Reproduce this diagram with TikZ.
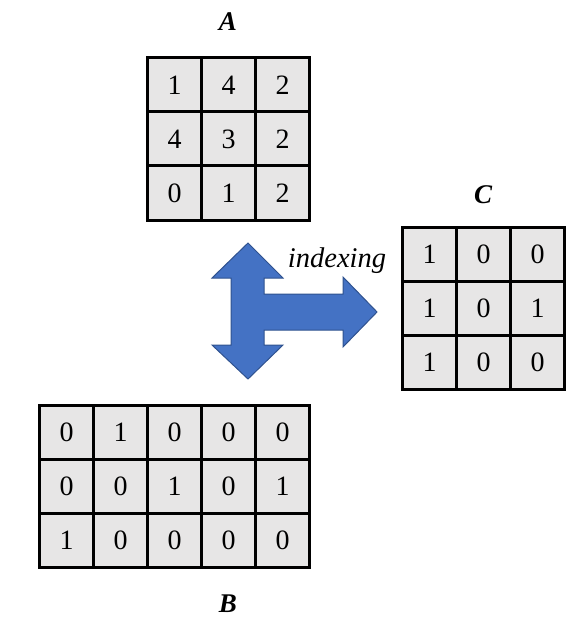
\documentclass[tikz,border=0pt]{standalone}
\usepackage{fontspec}
\setmainfont{Liberation Serif}
\definecolor{cellgray}{HTML}{E7E6E6}
\definecolor{arrowblue}{HTML}{4472C4}
\definecolor{arrowedge}{HTML}{2F528F}
\tikzset{
  cell/.style={draw=black, line width=3pt, fill=cellgray, minimum width=54pt, minimum height=54pt, inner sep=0pt, font=\fontsize{28}{30}\selectfont},
  mlabel/.style={font=\fontsize{27}{29}\selectfont\bfseries\itshape},
  bigarrow/.style={fill=arrowblue, draw=arrowedge, line width=1pt, line join=miter},
}
\begin{document}
\begin{tikzpicture}[x=1pt,y=-1pt]
\useasboundingbox (0,0) rectangle (587,631);
% Matrix A
\foreach \r/\row in {0/{1,4,2},1/{4,3,2},2/{0,1,2}}{
  \foreach \v [count=\c from 0] in \row {
    \node[cell] (A-\r-\c) at (174.5+54*\c, 85+54*\r) {\v};
  }
}
\node[mlabel] (labA) at (228,22) {A};
% Matrix C
\foreach \r/\row in {0/{1,0,0},1/{1,0,1},2/{1,0,0}}{
  \foreach \v [count=\c from 0] in \row {
    \node[cell] (C-\r-\c) at (429.5+54*\c, 254+54*\r) {\v};
  }
}
\node[mlabel] (labC) at (483,195) {C};
% Matrix B
\foreach \r/\row in {0/{0,1,0,0,0},1/{0,0,1,0,1},2/{1,0,0,0,0}}{
  \foreach \v [count=\c from 0] in \row {
    \node[cell] (B-\r-\c) at (66.5+54*\c, 432.5+54*\r) {\v};
  }
}
\node[mlabel] (labB) at (228,604) {B};
% Three-way arrow
\draw[bigarrow] (248,243) -- (283,278) -- (264,278) -- (264,294) -- (343,294) -- (343,277)
  -- (377,312) -- (343,347) -- (343,330) -- (264,330) -- (264,345) -- (283,345)
  -- (248,379) -- (212,345) -- (231,345) -- (231,278) -- (212,278) -- cycle;
\node[font=\fontsize{28.5}{30}\selectfont\itshape] (idx) at (337,261) {indexing};
\end{tikzpicture}
\end{document}
